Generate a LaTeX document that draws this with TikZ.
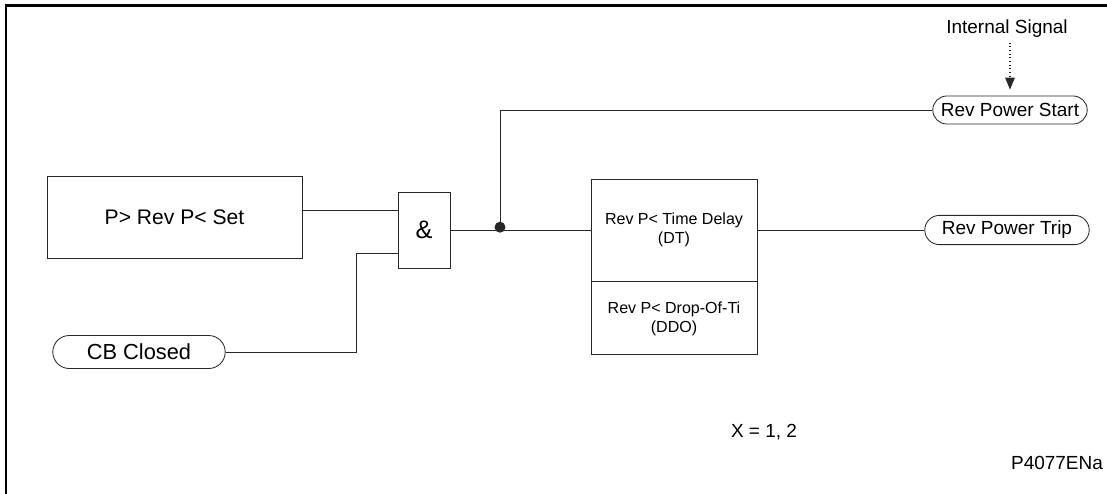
\documentclass[tikz,border=0pt]{standalone}
\usepackage{fontspec}
\setmainfont{Liberation Sans}
\usetikzlibrary{arrows.meta,positioning,calc,shapes.misc}
\definecolor{colTrait}{RGB}{40,40,40}

\begin{document}
\begin{tikzpicture}[x=0.025cm, y=-0.025cm,
    blk/.style={rectangle, draw=colTrait, line width=0.6pt, align=center,
      inner sep=2pt},
    sig/.style={rounded rectangle, draw=colTrait, line width=0.6pt,
      inner sep=2pt, font=\fontsize{13.5}{15}\selectfont},
    wire/.style={draw=colTrait, line width=0.6pt},
    txt/.style={font=\fontsize{13.5}{15}\selectfont}]
    \useasboundingbox (0,0) rectangle (1107,494);
    % cadre
    \draw[line width=1.8pt] (1107,5.5) -- (6,5.5) -- (6,494);
    % blocs
    \node[blk, minimum width=6.375cm, minimum height=2.05cm,
      font=\fontsize{15}{17}\selectfont] (set) at (174.5,217) {P> Rev P< Set};
    \node[blk, minimum width=1.3cm, minimum height=1.9cm,
      font=\fontsize{18}{20}\selectfont] (gate) at (424,230) {\&};
    \node[blk, minimum width=4.15cm, minimum height=2.55cm,
      font=\fontsize{11.4}{13.5}\selectfont] (tdt) at (674,230)
      {Rev P< Time Delay\\(DT)};
    \node[blk, minimum width=4.15cm, minimum height=1.825cm,
      font=\fontsize{11.4}{13.5}\selectfont, below=0pt of tdt] (tdo)
      {Rev P< Drop-Of-Ti\\(DDO)};
    % signaux
    \node[sig, minimum width=4.45cm, minimum height=0.825cm,
      font=\fontsize{15.5}{17}\selectfont] (cb) at (139,352) {CB Closed};
    \node[sig, minimum width=4.25cm, minimum height=0.73cm] (trip)
      at (1007,230) {Rev Power Trip};
    \node[sig, minimum width=4cm, minimum height=0.7cm] (start)
      at (1010,110) {Rev Power Start};
    \node[txt] (isig) at (1007,29) {Internal Signal};
    \node[txt] (xval) at (764,432) {X = 1, 2};
    \node[txt] (ref) at (1057,463) {P4077ENa};
    % liaisons
    \coordinate (gin1) at (398,210);
    \coordinate (gin2) at (398,253);
    \coordinate (tap) at (500,230);
    \draw[wire] (gin1 -| set.east) -- (gin1);
    \draw[wire] (cb.east) -| ([xshift=-1.05cm]gin2) -- (gin2);
    \draw[wire] (gate.east) -- (tdt.west);
    \fill[colTrait] ([yshift=0.07cm]tap) circle (5.5);
    \draw[wire] (tap) |- (start.west);
    \draw[wire] (tdt.east) -- (trip.west);
    \draw[wire, dotted, thick, -{Triangle[length=3mm,width=2.4mm]}]
      (isig.south -| start.north) -- ([yshift=0.15cm]start.north);
  \end{tikzpicture}
\end{document}
